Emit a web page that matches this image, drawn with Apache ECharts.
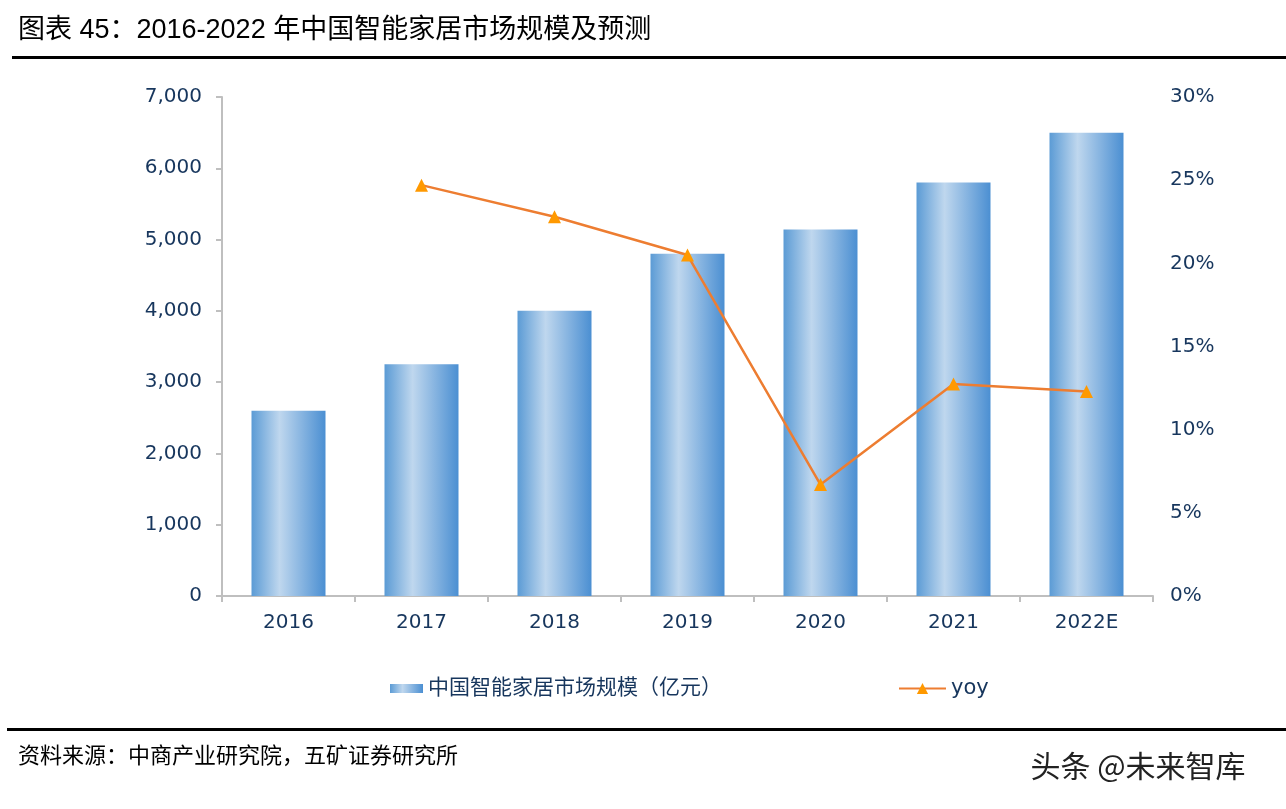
<!DOCTYPE html>
<html>
<head>
<meta charset="utf-8">
<script src="https://cdn.jsdelivr.net/npm/echarts@6/dist/echarts.min.js"></script>
<style>
html,body{margin:0;padding:0;background:#fff;}
#main{width:1286px;height:809px;}
</style>
</head>
<body>
<div id="main"></div>
<script>
const categories = ['2016','2017','2018','2019','2020','2021','2022E'];
const marketSize = [2600, 3250, 4000, 4800, 5140, 5800, 6500];
const yoy = [null, 24.7, 22.8, 20.5, 6.7, 12.75, 12.3];
const leftTicks = [0, 7000, 1000];
const rightTicks = [0, 30, 5];

const navy = '#17365d';
const numFont = "'DejaVu Sans', 'Noto Sans CJK SC', sans-serif";
const cjkFont = "'Liberation Sans', 'Noto Sans CJK SC', sans-serif";

const chart = echarts.init(document.getElementById('main'), null, {renderer: 'canvas'});
const barGrad = new echarts.graphic.LinearGradient(0, 0, 1, 0, [
  {offset: 0, color: '#5b9bd5'},
  {offset: 0.38, color: '#bfd7ee'},
  {offset: 1, color: '#4b8fd2'}
]);

chart.setOption({
  backgroundColor: '#fff',
  animation: false,
  grid: {left: 222, right: 133, top: 97, bottom: 213},
  legend: [
    {
      data: [{name: '中国智能家居市场规模（亿元）', icon: 'rect'}],
      left: 385, top: 673, itemWidth: 33, itemHeight: 9, itemGap: 10,
      textStyle: {color: navy, fontSize: 21, fontFamily: cjkFont}
    },
    {
      data: ['yoy'],
      left: 893, top: 673, itemWidth: 47, itemHeight: 14,
      textStyle: {color: navy, fontSize: 21, fontFamily: numFont}
    }
  ],
  xAxis: {
    type: 'category',
    data: categories,
    axisLine: {lineStyle: {color: '#bfbfbf', width: 2}},
    axisTick: {show: true, alignWithLabel: false, length: 6, lineStyle: {color: '#bfbfbf', width: 2}},
    axisLabel: {color: navy, fontSize: 20, fontFamily: numFont, margin: 17}
  },
  yAxis: [
    {
      type: 'value', min: leftTicks[0], max: leftTicks[1], interval: leftTicks[2],
      splitLine: {show: false},
      axisLine: {show: true, lineStyle: {color: '#bfbfbf', width: 2}},
      axisTick: {show: true, length: 6, lineStyle: {color: '#bfbfbf', width: 2}},
      axisLabel: {color: navy, fontSize: 20, fontFamily: numFont, margin: 20,
        formatter: v => v.toLocaleString('en-US')}
    },
    {
      type: 'value', min: rightTicks[0], max: rightTicks[1], interval: rightTicks[2],
      position: 'right',
      splitLine: {show: false},
      axisLine: {show: false},
      axisTick: {show: false},
      axisLabel: {color: navy, fontSize: 20, fontFamily: numFont, margin: 17,
        formatter: v => v + '%'}
    }
  ],
  series: [
    {
      name: '中国智能家居市场规模（亿元）',
      type: 'bar',
      data: marketSize,
      barWidth: 74,
      itemStyle: {color: barGrad}
    },
    {
      name: 'yoy',
      type: 'line',
      yAxisIndex: 1,
      data: yoy,
      symbol: 'triangle',
      symbolSize: 13,
      lineStyle: {color: '#ed7d31', width: 2.5},
      itemStyle: {color: '#ff9900'},
      connectNulls: false
    }
  ],
  graphic: [
    {type: 'text', left: 18, top: 17,
      style: {text: '图表 45：2016-2022 年中国智能家居市场规模及预测', fill: '#000',
        font: "27px 'Liberation Sans', 'Noto Sans CJK SC', sans-serif"}},
    {type: 'rect', shape: {x: 12, y: 56, width: 1274, height: 3}, style: {fill: '#000'}},
    {type: 'rect', shape: {x: 7, y: 728, width: 1279, height: 3}, style: {fill: '#000'}},
    {type: 'text', left: 18, top: 744,
      style: {text: '资料来源：中商产业研究院，五矿证券研究所', fill: '#000',
        font: "22px 'Noto Sans CJK SC', sans-serif"}},
    {type: 'text', left: 1030, top: 750,
      style: {text: '头条 @未来智库', fill: '#222', stroke: '#fff', lineWidth: 1,
        font: "30px 'Noto Sans CJK SC', sans-serif"}}
  ]
});
</script>
</body>
</html>
